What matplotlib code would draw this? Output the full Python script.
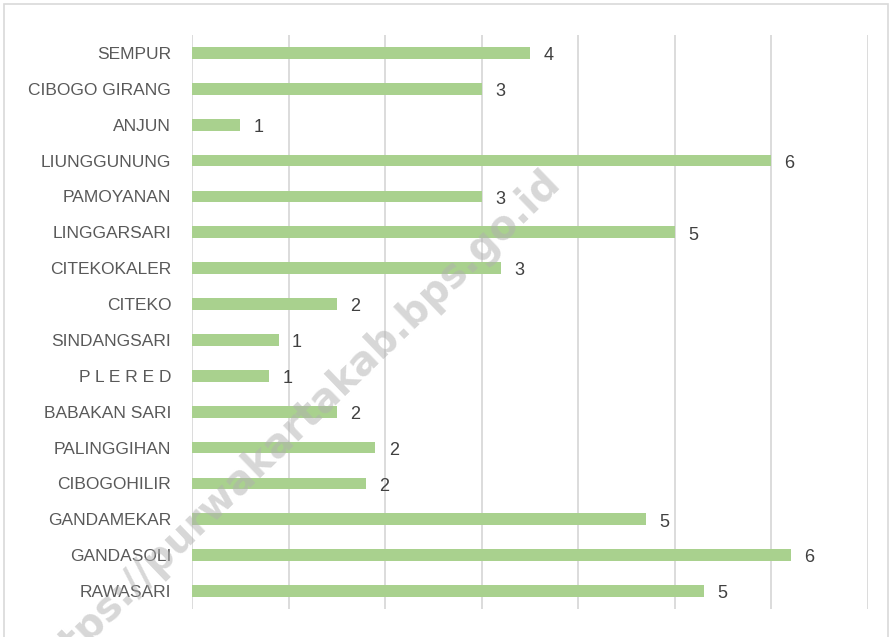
import matplotlib
matplotlib.use("Agg")
import matplotlib.pyplot as plt
from matplotlib.patches import Rectangle

categories = ["SEMPUR", "CIBOGO GIRANG", "ANJUN", "LIUNGGUNUNG", "PAMOYANAN",
              "LINGGARSARI", "CITEKOKALER", "CITEKO", "SINDANGSARI", "P L E R E D",
              "BABAKAN SARI", "PALINGGIHAN", "CIBOGOHILIR", "GANDAMEKAR",
              "GANDASOLI", "RAWASARI"]
values = [3.5, 3.0, 0.5, 6.0, 3.0, 5.0, 3.2, 1.5, 0.9, 0.8, 1.5, 1.9, 1.8, 4.7, 6.2, 5.3]
xticks = [0, 1, 2, 3, 4, 5, 6, 7]

plt.rcParams['font.family'] = ['Liberation Sans', 'DejaVu Sans']

W, H = 893, 637
fig = plt.figure(figsize=(W / 100, H / 100), dpi=100)
ax = fig.add_axes([192 / W, (H - 609) / H, (868 - 192) / W, (609 - 35) / H])

ypos = list(range(len(categories)))
ax.barh(ypos, values, height=0.33, color="#a9d18e", zorder=3)
for y, v in zip(ypos, values):
    ax.annotate(str(int(v + 0.5)), xy=(v, y), xytext=(9.5, -2), textcoords="offset points",
                ha="left", va="center", fontsize=13, color="#404040")

ax.set_xlim(0, 7)
ax.set_ylim(len(categories) - 0.5, -0.5)
ax.set_xticks(xticks)
ax.set_xticklabels([])
ax.set_yticks(ypos)
ax.set_yticklabels(categories, fontsize=12.5, color="#595959")
ax.tick_params(axis="both", length=0, pad=15)
ax.grid(axis="x", color="#d9d9d9", linewidth=1.3, zorder=0)
for s in ax.spines.values():
    s.set_visible(False)

# chart border
fig.patches.append(Rectangle((4 / W, -0.05), (888 - 4) / W, (H - 4) / H + 0.05,
                             transform=fig.transFigure, fill=False,
                             edgecolor="#d9d9d9", linewidth=1.2))

# watermark
fig.text(554 / W, (H - 176) / H, "https://purwakartakab.bps.go.id", rotation=44,
         rotation_mode="anchor", ha="right", va="center", fontsize=28.5,
         family="DejaVu Sans", fontweight="bold", color="#b0b0b0", alpha=0.5, zorder=10)

fig.savefig("out.png", dpi=100)
